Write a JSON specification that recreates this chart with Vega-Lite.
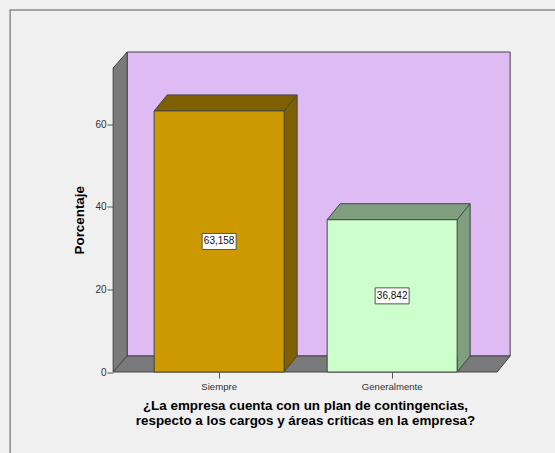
{
"$schema":"https://vega.github.io/schema/vega-lite/v6.json",
"width":384,"height":304.5,
"autosize":{"type":"none"},
"padding":{"left":113,"top":67.5,"right":58,"bottom":81},
"background":"#f0f0f0",
"config":{"view":{"stroke":null},"font":"Liberation Sans"},
"data":{"values":[
{"categoria":"Siempre","porcentaje":63.158,"etiqueta":"63,158"},
{"categoria":"Generalmente","porcentaje":36.842,"etiqueta":"36,842"}
]},
"encoding":{
"x":{"field":"categoria","type":"nominal","sort":null,
"scale":{"domain":["Siempre","Generalmente"],"paddingInner":0.2486,"paddingOuter":0.2341,"align":0.508},
"axis":{"labelAngle":0,"labelFontSize":9.6,"labelColor":"#333333","labelPadding":3,"tickSize":6,"tickColor":"#555555","domain":false,"grid":false,
"title":["¿La empresa cuenta con un plan de contingencias,","respecto a los cargos y áreas críticas en la empresa?"],
"titleFontSize":13.4,"titleFontWeight":"bold","titleColor":"#000000","titleLineHeight":15,"titlePadding":8}},
"y":{"field":"porcentaje","type":"quantitative",
"scale":{"domain":[0,73.67],"nice":false,"zero":true},
"axis":{"values":[0,20,40,60],"domain":false,"grid":false,"labelFontSize":10,"labelColor":"#333333","labelPadding":1,"tickSize":6,"tickColor":"#555555",
"title":"Porcentaje","titleFontSize":13.4,"titleFontWeight":"bold","titleColor":"#000000","titlePadding":8}}
},
"layer":[
{"transform":[{"filter":"datum.categoria=='Siempre'"}],
"mark":{"type":"point","shape":"M-209 81L-209 -362L336 -362","size":4,"filled":false,"stroke":"#8a8a8a","strokeWidth":1.5,"opacity":1},
"encoding":{"y":{"datum":0,"type":"quantitative"}}},
{"transform":[{"filter":"datum.categoria=='Siempre'"}],
"mark":{"type":"point","shape":"M-92 -16L291 -16L291 -320L-92 -320Z","size":4,"filled":true,"fill":"#dfbbf3","stroke":"#444444","strokeWidth":1,"opacity":1},
"encoding":{"y":{"datum":0,"type":"quantitative"}}},
{"transform":[{"filter":"datum.categoria=='Siempre'"}],
"mark":{"type":"point","shape":"M-106 0L-92 -16L-92 -320L-106 -304Z","size":4,"filled":true,"fill":"#7a7a7a","stroke":"#444444","strokeWidth":1,"opacity":1},
"encoding":{"y":{"datum":0,"type":"quantitative"}}},
{"transform":[{"filter":"datum.categoria=='Siempre'"}],
"mark":{"type":"point","shape":"M-106 0L278 0L291 -16L-92 -16Z","size":4,"filled":true,"fill":"#7a7a7a","stroke":"#444444","strokeWidth":1,"opacity":1},
"encoding":{"y":{"datum":0,"type":"quantitative"}}},
{"mark":{"type":"bar","xOffset":13,"x2Offset":13,"yOffset":-16,"y2Offset":-16},
"encoding":{"y2":{"datum":0},"color":{"field":"categoria","scale":{"domain":["Siempre","Generalmente"],"range":["#7f6000","#7f9f7f"]},"legend":null}}},
{"mark":{"type":"point","shape":"M78 -16L65 0L65 -16","size":4,"filled":true,"stroke":"#444444","strokeWidth":1,"opacity":1},
"encoding":{"y":{"datum":0,"type":"quantitative"},"color":{"field":"categoria","legend":null}}},
{"mark":{"type":"rule","xOffset":78,"yOffset":-16,"y2Offset":-16,"color":"#444444","strokeWidth":1},
"encoding":{"y2":{"datum":0}}},
{"mark":{"type":"point","shape":"M-65 0L-52 -16L78 -16L65 0Z","size":4,"filled":true,"stroke":"#444444","strokeWidth":1,"opacity":1},
"encoding":{"color":{"field":"categoria","legend":null}}},
{"mark":{"type":"bar","stroke":"#444444","strokeWidth":1},
"encoding":{"y2":{"datum":0},"fill":{"field":"categoria","scale":{"domain":["Siempre","Generalmente"],"range":["#cc9900","#ccffcc"]},"legend":null}}},
{"transform":[{"calculate":"datum.porcentaje/2","as":"mitad"}],
"mark":{"type":"point","shape":"M-17 -8H17V8H-17Z","size":4,"filled":true,"fill":"#ffffff","stroke":"#555555","strokeWidth":1,"opacity":1},
"encoding":{"y":{"field":"mitad","type":"quantitative"}}},
{"transform":[{"calculate":"datum.porcentaje/2","as":"mitad"}],
"mark":{"type":"text","fontSize":10,"color":"#111111","baseline":"middle","align":"center"},
"encoding":{"y":{"field":"mitad","type":"quantitative"},"text":{"field":"etiqueta"}}}
]
}
